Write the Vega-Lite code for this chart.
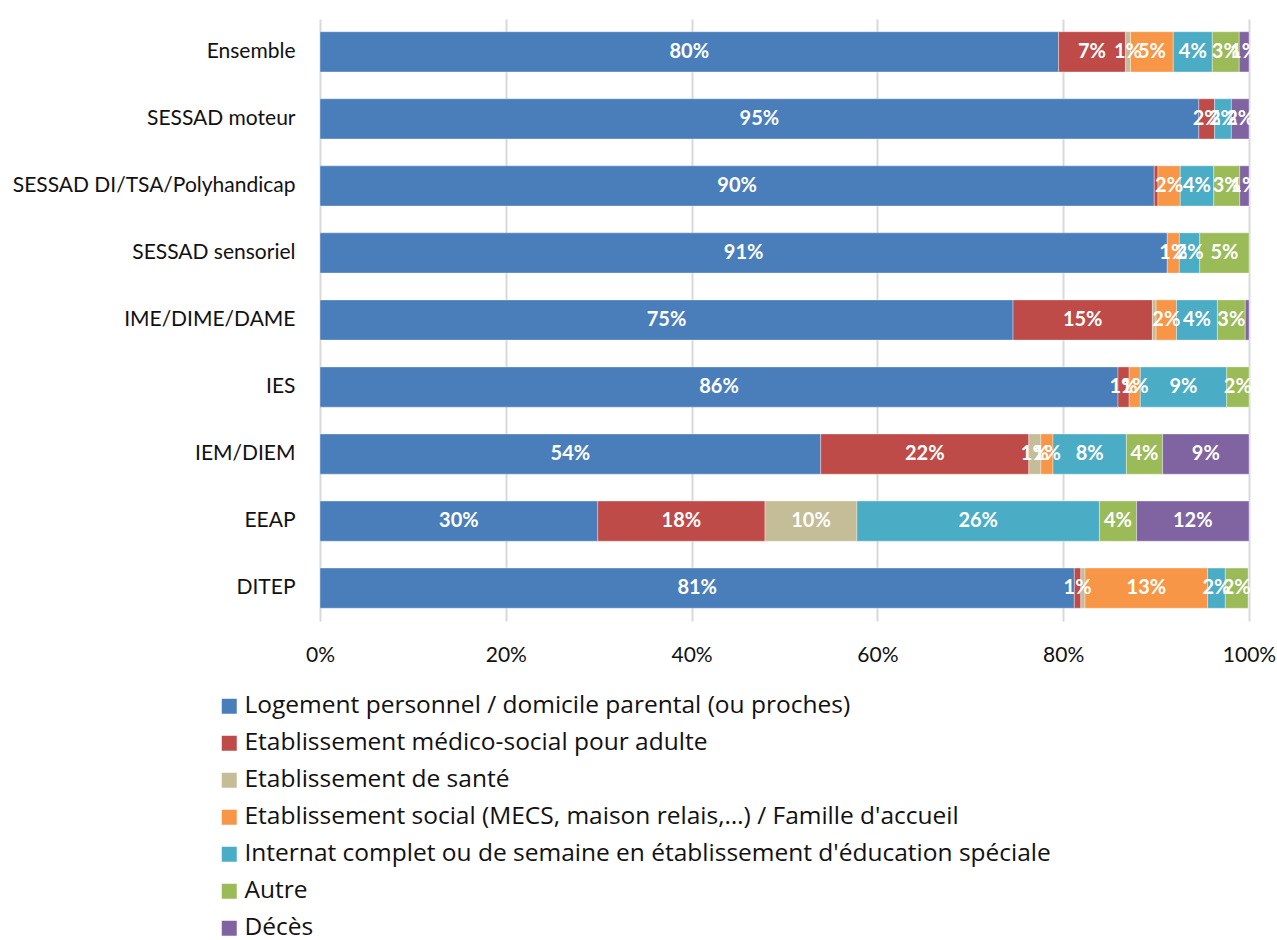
{
  "$schema": "https://vega.github.io/schema/vega-lite/v6.json",
  "width": 929,
  "height": 602,
  "autosize": {"type": "none"},
  "padding": {"left": 320, "top": 19, "right": 28, "bottom": 319},
  "background": "white",
  "config": {
    "view": {"stroke": null},
    "font": "Lato"
  },
  "data": {
    "values": [
      {"cat": "Ensemble", "type": "Logement personnel / domicile parental (ou proches)", "k": 1, "value": 0.795},
      {"cat": "Ensemble", "type": "Etablissement médico-social pour adulte", "k": 2, "value": 0.072},
      {"cat": "Ensemble", "type": "Etablissement de santé", "k": 3, "value": 0.0055},
      {"cat": "Ensemble", "type": "Etablissement social (MECS, maison relais,…)  / Famille d'accueil", "k": 4, "value": 0.046},
      {"cat": "Ensemble", "type": "Internat complet ou de semaine en établissement d'éducation spéciale", "k": 5, "value": 0.042},
      {"cat": "Ensemble", "type": "Autre", "k": 6, "value": 0.029},
      {"cat": "Ensemble", "type": "Décès", "k": 7, "value": 0.0105},

      {"cat": "SESSAD moteur", "type": "Logement personnel / domicile parental (ou proches)", "k": 1, "value": 0.946},
      {"cat": "SESSAD moteur", "type": "Etablissement médico-social pour adulte", "k": 2, "value": 0.017},
      {"cat": "SESSAD moteur", "type": "Internat complet ou de semaine en établissement d'éducation spéciale", "k": 5, "value": 0.018},
      {"cat": "SESSAD moteur", "type": "Décès", "k": 7, "value": 0.019},

      {"cat": "SESSAD DI/TSA/Polyhandicap", "type": "Logement personnel / domicile parental (ou proches)", "k": 1, "value": 0.898},
      {"cat": "SESSAD DI/TSA/Polyhandicap", "type": "Etablissement médico-social pour adulte", "k": 2, "value": 0.004},
      {"cat": "SESSAD DI/TSA/Polyhandicap", "type": "Etablissement social (MECS, maison relais,…)  / Famille d'accueil", "k": 4, "value": 0.024},
      {"cat": "SESSAD DI/TSA/Polyhandicap", "type": "Internat complet ou de semaine en établissement d'éducation spéciale", "k": 5, "value": 0.036},
      {"cat": "SESSAD DI/TSA/Polyhandicap", "type": "Autre", "k": 6, "value": 0.028},
      {"cat": "SESSAD DI/TSA/Polyhandicap", "type": "Décès", "k": 7, "value": 0.010},

      {"cat": "SESSAD sensoriel", "type": "Logement personnel / domicile parental (ou proches)", "k": 1, "value": 0.912},
      {"cat": "SESSAD sensoriel", "type": "Etablissement social (MECS, maison relais,…)  / Famille d'accueil", "k": 4, "value": 0.013},
      {"cat": "SESSAD sensoriel", "type": "Internat complet ou de semaine en établissement d'éducation spéciale", "k": 5, "value": 0.022},
      {"cat": "SESSAD sensoriel", "type": "Autre", "k": 6, "value": 0.053},

      {"cat": "IME/DIME/DAME", "type": "Logement personnel / domicile parental (ou proches)", "k": 1, "value": 0.746},
      {"cat": "IME/DIME/DAME", "type": "Etablissement médico-social pour adulte", "k": 2, "value": 0.150},
      {"cat": "IME/DIME/DAME", "type": "Etablissement de santé", "k": 3, "value": 0.004},
      {"cat": "IME/DIME/DAME", "type": "Etablissement social (MECS, maison relais,…)  / Famille d'accueil", "k": 4, "value": 0.022},
      {"cat": "IME/DIME/DAME", "type": "Internat complet ou de semaine en établissement d'éducation spéciale", "k": 5, "value": 0.044},
      {"cat": "IME/DIME/DAME", "type": "Autre", "k": 6, "value": 0.030},
      {"cat": "IME/DIME/DAME", "type": "Décès", "k": 7, "value": 0.004},

      {"cat": "IES", "type": "Logement personnel / domicile parental (ou proches)", "k": 1, "value": 0.859},
      {"cat": "IES", "type": "Etablissement médico-social pour adulte", "k": 2, "value": 0.012},
      {"cat": "IES", "type": "Etablissement social (MECS, maison relais,…)  / Famille d'accueil", "k": 4, "value": 0.012},
      {"cat": "IES", "type": "Internat complet ou de semaine en établissement d'éducation spéciale", "k": 5, "value": 0.093},
      {"cat": "IES", "type": "Autre", "k": 6, "value": 0.024},

      {"cat": "IEM/DIEM", "type": "Logement personnel / domicile parental (ou proches)", "k": 1, "value": 0.539},
      {"cat": "IEM/DIEM", "type": "Etablissement médico-social pour adulte", "k": 2, "value": 0.224},
      {"cat": "IEM/DIEM", "type": "Etablissement de santé", "k": 3, "value": 0.013},
      {"cat": "IEM/DIEM", "type": "Etablissement social (MECS, maison relais,…)  / Famille d'accueil", "k": 4, "value": 0.013},
      {"cat": "IEM/DIEM", "type": "Internat complet ou de semaine en établissement d'éducation spéciale", "k": 5, "value": 0.079},
      {"cat": "IEM/DIEM", "type": "Autre", "k": 6, "value": 0.039},
      {"cat": "IEM/DIEM", "type": "Décès", "k": 7, "value": 0.093},

      {"cat": "EEAP", "type": "Logement personnel / domicile parental (ou proches)", "k": 1, "value": 0.299},
      {"cat": "EEAP", "type": "Etablissement médico-social pour adulte", "k": 2, "value": 0.180},
      {"cat": "EEAP", "type": "Etablissement de santé", "k": 3, "value": 0.099},
      {"cat": "EEAP", "type": "Internat complet ou de semaine en établissement d'éducation spéciale", "k": 5, "value": 0.261},
      {"cat": "EEAP", "type": "Autre", "k": 6, "value": 0.040},
      {"cat": "EEAP", "type": "Décès", "k": 7, "value": 0.121},

      {"cat": "DITEP", "type": "Logement personnel / domicile parental (ou proches)", "k": 1, "value": 0.812},
      {"cat": "DITEP", "type": "Etablissement médico-social pour adulte", "k": 2, "value": 0.007},
      {"cat": "DITEP", "type": "Etablissement de santé", "k": 3, "value": 0.0045},
      {"cat": "DITEP", "type": "Etablissement social (MECS, maison relais,…)  / Famille d'accueil", "k": 4, "value": 0.132},
      {"cat": "DITEP", "type": "Internat complet ou de semaine en établissement d'éducation spéciale", "k": 5, "value": 0.019},
      {"cat": "DITEP", "type": "Autre", "k": 6, "value": 0.0245}
    ]
  },
  "transform": [
    {"stack": "value", "groupby": ["cat"], "sort": [{"field": "k", "order": "ascending"}], "as": ["x0", "x1"]},
    {"calculate": "(datum.x0 + datum.x1) / 2", "as": "xm"}
  ],
  "encoding": {
    "y": {
      "field": "cat",
      "type": "nominal",
      "sort": ["Ensemble", "SESSAD moteur", "SESSAD DI/TSA/Polyhandicap", "SESSAD sensoriel", "IME/DIME/DAME", "IES", "IEM/DIEM", "EEAP", "DITEP"],
      "scale": {"paddingInner": 0.4, "paddingOuter": 0.19},
      "axis": {"title": null, "domain": false, "ticks": false, "labelPadding": 25, "labelFontSize": 21, "labelLimit": 400, "labelColor": "#111111", "labelFont": "Lato"}
    }
  },
  "layer": [
    {
      "mark": {"type": "bar", "stroke": "#ffffff", "strokeOpacity": 0.35, "strokeWidth": 1},
      "encoding": {
        "x": {
          "field": "x0",
          "type": "quantitative",
          "scale": {"domain": [0, 1], "nice": false},
          "axis": {"title": null, "format": ".0%", "values": [0, 0.2, 0.4, 0.6, 0.8, 1], "domain": false, "ticks": false, "grid": true, "gridColor": "#d9d9d9", "gridWidth": 2, "labelPadding": 23, "labelFontSize": 21, "labelColor": "#111111", "labelFont": "Lato", "labelOverlap": false, "labelFlush": false}
        },
        "x2": {"field": "x1"},
        "color": {
          "field": "type",
          "type": "nominal",
          "sort": ["Logement personnel / domicile parental (ou proches)", "Etablissement médico-social pour adulte", "Etablissement de santé", "Etablissement social (MECS, maison relais,…)  / Famille d'accueil", "Internat complet ou de semaine en établissement d'éducation spéciale", "Autre", "Décès"],
          "scale": {
            "domain": ["Logement personnel / domicile parental (ou proches)", "Etablissement médico-social pour adulte", "Etablissement de santé", "Etablissement social (MECS, maison relais,…)  / Famille d'accueil", "Internat complet ou de semaine en établissement d'éducation spéciale", "Autre", "Décès"],
            "range": ["#4a7ebb", "#be4b48", "#c4bd97", "#f79646", "#4bacc6", "#9bbb59", "#8064a2"]
          },
          "legend": {
            "title": null,
            "orient": "none",
            "legendX": -103,
            "legendY": 675,
            "direction": "vertical",
            "columns": 1,
            "symbolType": "square",
            "symbolSize": 225,
            "symbolStrokeWidth": 0,
            "labelFontSize": 24.5,
            "labelFont": "Open Sans",
            "labelColor": "#111111",
            "labelOffset": 3,
            "labelLimit": 1000,
            "rowPadding": 12
          }
        }
      }
    },
    {
      "transform": [{"filter": "datum.value >= 0.005"}],
      "mark": {"type": "text", "color": "white", "fontWeight": "bold", "fontSize": 20, "font": "Lato", "align": "center", "baseline": "middle"},
      "encoding": {
        "x": {"field": "xm", "type": "quantitative"},
        "text": {"field": "value", "type": "quantitative", "format": ".0%"}
      }
    }
  ]
}
